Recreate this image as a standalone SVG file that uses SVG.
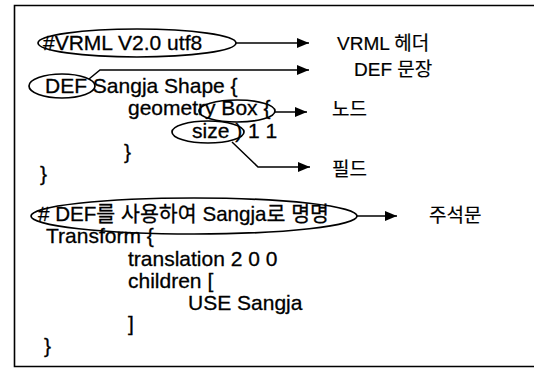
<svg xmlns="http://www.w3.org/2000/svg" width="534" height="368" viewBox="0 0 534 368">
  <defs>
    <marker id="arrow" viewBox="0 0 12 10" refX="12" refY="5" markerWidth="12" markerHeight="10" markerUnits="userSpaceOnUse" orient="auto">
      <path d="M0,0 L12,5 L0,10 Z" fill="#000"/>
    </marker>
    <style>
      .code { font-family: "Liberation Sans", "Noto Sans CJK KR", sans-serif; font-size: 21px; fill: #000; stroke: #000; stroke-width: 0.3; }
      .label { font-family: "Liberation Sans", "Noto Sans CJK KR", sans-serif; font-size: 19px; fill: #000; stroke: #000; stroke-width: 0.2; }
      .ring { fill: none; stroke: #000; stroke-width: 1.7; }
      .conn { fill: none; stroke: #000; stroke-width: 1.5; marker-end: url(#arrow); }
    </style>
  </defs>
  <rect width="534" height="368" fill="#fff"/>

  <!-- page frame (right edge runs off the page) -->
  <path d="M534,5.5 H14.5 V366.5 H534" fill="none" stroke="#000" stroke-width="1.6"/>

  <!-- VRML source listing -->
  <g id="code">
    <text class="code" x="43" y="50">#VRML V2.0 utf8</text>
    <text class="code" x="45" y="93">DEF Sangja Shape {</text>
    <text class="code" x="128" y="115">geometry Box {</text>
    <text class="code" x="192" y="138">size ) 1 1</text>
    <text class="code" x="124" y="159">}</text>
    <text class="code" x="40" y="181">}</text>
    <text class="code" x="38" y="221" font-size="20" textLength="291" lengthAdjust="spacingAndGlyphs"># DEF를 사용하여 Sangja로 명명</text>
    <text class="code" x="46" y="243">Transform {</text>
    <text class="code" x="128" y="266">translation 2 0 0</text>
    <text class="code" x="128" y="288">children [</text>
    <text class="code" x="188" y="310">USE Sangja</text>
    <text class="code" x="128" y="331">]</text>
    <text class="code" x="44" y="353">}</text>
  </g>

  <!-- highlighted parts of the listing -->
  <g id="header">
    <ellipse class="ring" cx="137" cy="43" rx="99" ry="14"/>
  </g>
  <g id="def">
    <ellipse class="ring" cx="62" cy="86" rx="33" ry="12"/>
  </g>
  <g id="node">
    <ellipse class="ring" cx="237" cy="111" rx="38" ry="11"/>
  </g>
  <g id="field">
    <ellipse class="ring" cx="208" cy="132" rx="36" ry="11"/>
  </g>
  <g id="comment">
    <ellipse class="ring" cx="194" cy="216" rx="163" ry="18"/>
  </g>

  <!-- explanation labels -->
  <g id="label-header"><text class="label" x="337" y="50">VRML 헤더</text></g>
  <g id="label-def"><text class="label" x="354" y="76">DEF 문장</text></g>
  <g id="label-node"><text class="label" x="332" y="116">노드</text></g>
  <g id="label-field"><text class="label" x="332" y="176">필드</text></g>
  <g id="label-comment"><text class="label" x="429" y="222">주석문</text></g>

  <!-- connectors -->
  <g id="connectors">
    <path class="conn" d="M236,43 H309"/>
    <path class="conn" d="M89,79 L100,70 H309"/>
    <path class="conn" d="M275,112 H307"/>
    <path class="conn" d="M232,142 L258,167 H310"/>
    <path class="conn" d="M357,216 H397"/>
  </g>
</svg>
